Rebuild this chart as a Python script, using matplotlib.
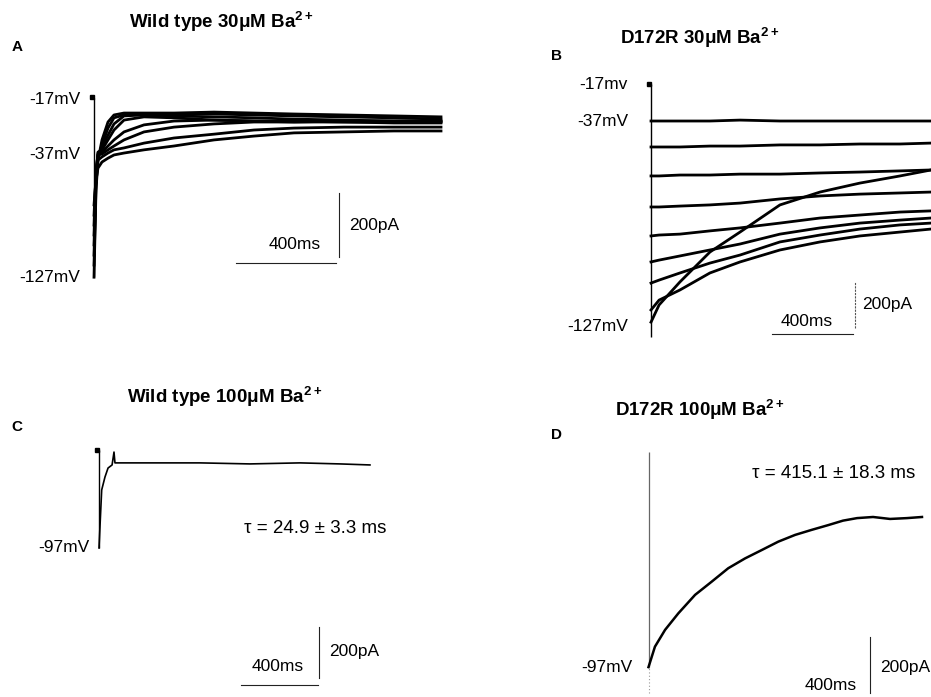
import matplotlib.pyplot as plt

plt.rcParams['font.family'] = ['Liberation Sans', 'DejaVu Sans']
plt.rcParams['mathtext.fontset'] = 'custom'
plt.rcParams['mathtext.rm'] = 'Liberation Sans'
plt.rcParams['mathtext.bf'] = 'Liberation Sans:bold'

W, H = 931, 697

# ---- A: wild type, 30 uM Ba2+ (time in ms, current in pA)
t_a = [0, 8, 16, 32, 56, 80, 120, 200, 320, 480, 640, 800, 1000, 1200, 1388]
a_traces = [
    [-560, -288, -194, -131, -75, -53, -47, -47, -47, -44, -47, -50, -53, -56, -59],
    [-522, -272, -188, -147, -94, -62, -53, -50, -50, -50, -53, -56, -59, -62, -66],
    [-491, -256, -178, -156, -116, -81, -56, -53, -56, -59, -62, -66, -69, -72, -72],
    [-459, -241, -169, -162, -131, -100, -69, -59, -62, -69, -72, -75, -75, -78, -78],
    [-428, -231, -172, -169, -150, -131, -106, -84, -72, -69, -72, -72, -75, -75, -75],
    [-397, -225, -178, -175, -162, -150, -131, -106, -91, -81, -75, -75, -72, -72, -72],
    [-366, -241, -194, -184, -172, -162, -156, -141, -125, -113, -100, -94, -91, -91, -91],
    [-334, -256, -219, -200, -188, -178, -172, -162, -150, -131, -119, -109, -106, -103, -103],
]
a_volts = ['-17mV', '-37mV', '-127mV']
a_volt_pa = [-6, -178, -560]

# ---- B: D172R, 30 uM Ba2+
t_b = [0, 40, 143, 291, 440, 637, 835, 1032, 1230, 1383]
b_traces = [
    [-161, -161, -161, -161, -157, -161, -161, -161, -161, -161],
    [-274, -274, -274, -270, -270, -265, -265, -261, -261, -257],
    [-400, -400, -396, -396, -392, -392, -387, -383, -378, -374],
    [-535, -535, -531, -526, -518, -500, -487, -479, -474, -470],
    [-661, -657, -653, -639, -626, -605, -583, -570, -557, -552],
    [-774, -766, -748, -722, -696, -653, -626, -605, -592, -583],
    [-866, -853, -822, -779, -744, -687, -657, -631, -613, -605],
    [-1036, -961, -861, -731, -644, -526, -470, -431, -400, -374],
    [-983, -940, -896, -822, -774, -722, -687, -661, -644, -631],
]
b_peak = -1100
b_volts = ['-17mv', '-37mV', '-127mV']
b_volt_pa = [-4, -161, -1057]

# ---- C: wild type, 100 uM Ba2+
t_c = [0, 5, 14, 31, 47, 68, 78, 83, 265, 525, 785, 1045, 1253, 1409]
c_cur = [-380, -299, -155, -105, -70, -58, -8, -50, -50, -50, -54, -50, -54, -58]
tau_c = 'τ = 24.9 ± 3.3 ms'

# ---- D: D172R, 100 uM Ba2+
t_d = [0, 33, 85, 153, 239, 324, 409, 495, 581, 666, 752, 837, 922, 998, 1070, 1152, 1239, 1326, 1403]
d_cur = [-768, -695, -635, -576, -510, -463, -415, -380, -350, -320, -296, -278, -261, -245,
         -236, -232, -239, -236, -232]
tau_d = 'τ = 415.1 ± 18.3 ms'

fig = plt.figure(figsize=(W / 100, H / 100), dpi=100)


def panel(x0, y0, ms_px, pa_px):
    # axes whose data origin (0 ms, 0 pA) sits at pixel (x0, y0)
    ax = fig.add_axes([(x0 - 90) / W, 1 - (y0 + 270) / H, 380 / W, 300 / H])
    ax.set_xlim(-90 * ms_px, 290 * ms_px)
    ax.set_ylim(-270 * pa_px, 30 * pa_px)
    ax.axis('off')
    return ax


def scalebar(ax, t0, y_h, y_v0, t_v, color='#222222', ls='-'):
    ax.plot([t0, t0 + 400], [y_h, y_h], color='#222222', lw=0.8, clip_on=False)
    ax.plot([t_v, t_v], [y_v0, y_v0 + 200], color=color, lw=0.8, ls=ls, clip_on=False)


txt = dict(fontsize=12.5, clip_on=False)

# A
ax = panel(94, 98, 4.0, 3.125)
ax.vlines(0, min(min(tr) for tr in a_traces), 0, color='black', lw=1.0)
for tr in a_traces:
    ax.plot(t_a, tr, color='black', lw=2.0, clip_on=False)
ax.plot(-8, 3, 's', color='black', ms=3)
for lab, v in zip(a_volts, a_volt_pa):
    ax.text(-56, v, lab, ha='right', va='center', **txt)
scalebar(ax, 568, -515, -497, 980)
ax.text(804, -459, '400ms', ha='center', va='center', **txt)
ax.text(1020, -397, '200pA', ha='left', va='center', **txt)

# B
ax = panel(651, 84, 4.94, 4.35)
ax.vlines(0, b_peak, 0, color='black', lw=1.0)
for tr in b_traces:
    ax.plot(t_b, tr, color='black', lw=2.0, clip_on=False)
ax.plot(-8, 0, 's', color='black', ms=3)
for lab, v in zip(b_volts, b_volt_pa):
    ax.text(-114, v, lab, ha='right', va='center', **txt)
scalebar(ax, 598, -1088, -1061, 1008, color='#555555', ls=(0, (2, 1)))
ax.text(771, -1035, '400ms', ha='center', va='center', **txt)
ax.text(1042, -961, '200pA', ha='left', va='center', **txt)

# C
ax = panel(99, 450, 5.2, 3.88)
ax.vlines(0, min(c_cur), 0, color='black', lw=1.0)
ax.plot(t_c, c_cur, color='black', lw=1.2, clip_on=False)
ax.plot(-10, 0, 's', color='black', ms=2.5)
ax.text(-47, -380, '-97mV', ha='right', va='center', **txt)
ax.text(754, -303, tau_c, ha='left', va='center', fontsize=13.5, clip_on=False)
scalebar(ax, 737, -912, -886, 1146)
ax.text(931, -841, '400ms', ha='center', va='center', **txt)
ax.text(1196, -783, '200pA', ha='left', va='center', **txt)

# D
ax = panel(648.5, 452, 5.13, 3.57)
ax.vlines(0, d_cur[0], 0, color='#666666', lw=0.9)
ax.vlines(0, -860, d_cur[0], color='#999999', lw=0.8, linestyles=(0, (1, 2)))
ax.plot(t_d, d_cur, color='black', lw=1.8, clip_on=False)
ax.text(-80, -771, '-97mV', ha='right', va='center', **txt)
ax.text(530, -75, tau_d, ha='left', va='center', fontsize=13.5, clip_on=False)
scalebar(ax, 736, -885, -859, 1136)
ax.text(936, -832, '400ms', ha='center', va='center', **txt)
ax.text(1187, -768, '200pA', ha='left', va='center', **txt)

# titles and panel letters (pixel positions)
titles = [r'Wild type 30μM Ba$^{\mathbf{2+}}$', r'D172R 30μM Ba$^{\mathbf{2+}}$',
          r'Wild type 100μM Ba$^{\mathbf{2+}}$', r'D172R 100μM Ba$^{\mathbf{2+}}$']
title_xy = [(221, 22), (700, 38), (225, 397), (700, 410)]
for s, (x, y) in zip(titles, title_xy):
    fig.text(x / W, 1 - y / H, s, ha='center', va='center', fontsize=13.5, fontweight='bold')

letters = ['A', 'B', 'C', 'D']
letter_xy = [(17, 47), (557, 56), (17, 427), (557, 435)]
for s, (x, y) in zip(letters, letter_xy):
    fig.text(x / W, 1 - y / H, s, ha='center', va='center', fontsize=11, fontweight='bold')

fig.savefig('out.png', dpi=100, facecolor='white')
